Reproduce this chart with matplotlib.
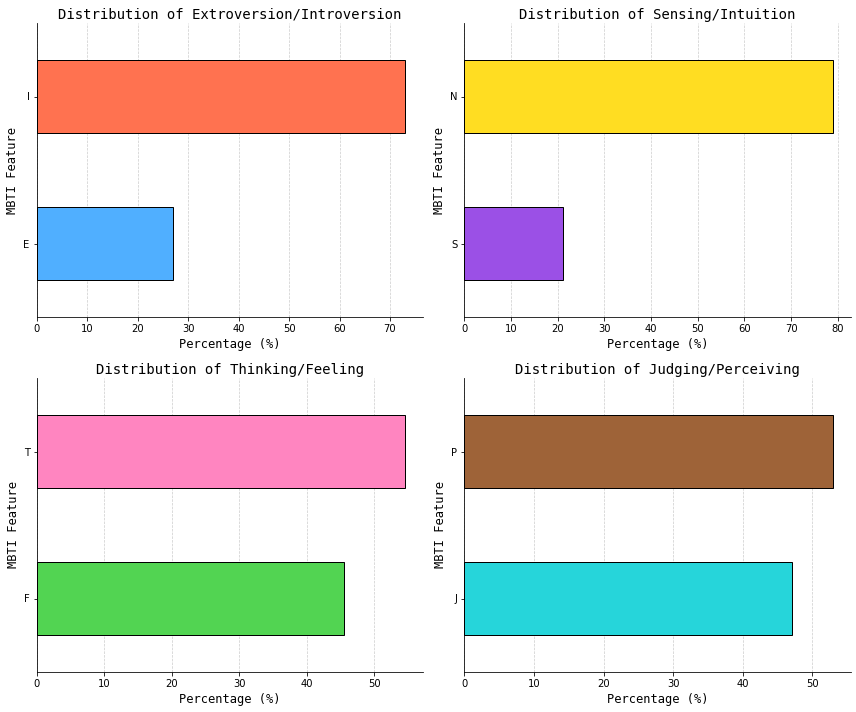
import matplotlib
matplotlib.use("Agg")
import matplotlib.pyplot as plt

titles = ["Distribution of Extroversion/Introversion",
          "Distribution of Sensing/Intuition",
          "Distribution of Thinking/Feeling",
          "Distribution of Judging/Perceiving"]
labels_ei = ["E", "I"]
values_ei = [27.1, 72.9]
labels_sn = ["S", "N"]
values_sn = [21.1, 78.9]
labels_tf = ["F", "T"]
values_tf = [45.5, 54.5]
labels_jp = ["J", "P"]
values_jp = [47.1, 52.9]
colors_ei = ["#50AFFF", "#FF7250"]
colors_sn = ["#9B50E6", "#FFDD22"]
colors_tf = ["#52D452", "#FF85C0"]
colors_jp = ["#26D5DA", "#9E6338"]

panels = [(labels_ei, values_ei, colors_ei),
          (labels_sn, values_sn, colors_sn),
          (labels_tf, values_tf, colors_tf),
          (labels_jp, values_jp, colors_jp)]

W, H = 856, 712
fig = plt.figure(figsize=(W / 72, H / 72), dpi=72)
boxes = [(36.7, 23, 423, 317), (464.3, 23, 851, 317),
         (36.7, 378, 423, 672), (464.3, 378, 851, 672)]

mono = "DejaVu Sans Mono"
for (l, t, r, b), title, (labs, vals, cols) in zip(boxes, titles, panels):
    ax = fig.add_axes([l / W, 1 - b / H, (r - l) / W, (b - t) / H])
    ax.set_axisbelow(True)
    ax.grid(axis="x", linestyle="--", color="#cccccc", linewidth=0.7)
    ax.barh(range(len(vals)), vals, height=0.5, color=cols,
            edgecolor="black", linewidth=1.0)
    ax.set_yticks(range(len(vals)))
    ax.set_yticklabels(labs)
    ax.set_ylim(-0.5, len(vals) - 0.5)
    ax.set_xlim(0, max(vals) * 1.05)
    ax.spines["top"].set_visible(False)
    ax.spines["right"].set_visible(False)
    ax.tick_params(labelsize=10)
    ax.set_title(title, fontsize=14, family=mono, pad=4)
    ax.set_xlabel("Percentage (%)", fontsize=12, family=mono)
    ax.set_ylabel("MBTI Feature", fontsize=12, family=mono)

fig.savefig("out.png", dpi=72)
